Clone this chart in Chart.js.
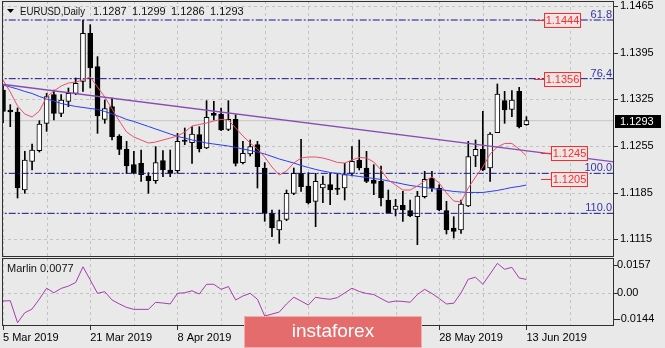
<!DOCTYPE html>
<html>
<head>
<meta charset="utf-8">
<script src="https://cdn.jsdelivr.net/npm/chart.js@4.4.1/dist/chart.umd.min.js"></script>
<style>
  html, body { margin: 0; padding: 0; background: #E9E9E9; }
  #wrap { position: relative; width: 665px; height: 348px; overflow: hidden; background: #E9E9E9; }
  canvas { position: absolute; left: 0; }
  #main { top: 0; }
  #sub { top: 257px; }
</style>
</head>
<body>
<div id="wrap">
  <canvas id="main" width="665" height="258"></canvas>
  <canvas id="sub" width="665" height="91"></canvas>
</div>
<script>
// EURUSD daily, 5 Mar - 13 Jun 2019
const symbolName = 'EURUSD,Daily';
const dateLabels = ['5 Mar 2019', '21 Mar 2019', '8 Apr 2019', '24 Apr 2019', '10 May 2019', '28 May 2019', '13 Jun 2019'];
const dateLabelBars = [0, 12, 24, 36, 48, 60, 72];

const opens = [1.1339,1.1309,1.1306,1.1189,1.1232,1.1248,1.1289,1.1332,1.1304,1.1322,
  1.1334,1.1352,1.1424,1.1374,1.1295,1.1314,1.1270,1.1250,1.1227,1.1229,
  1.1210,1.1203,1.1233,1.1219,1.1218,1.1264,1.1260,1.1272,1.1252,1.1304,
  1.1303,1.1280,1.1295,1.1230,1.1243,1.1257,1.1222,1.1154,1.1129,1.1145,
  1.1184,1.1214,1.1195,1.1172,1.1192,1.1197,1.1192,1.1192,1.1214,1.1234,
  1.1222,1.1204,1.1202,1.1174,1.1160,1.1166,1.1158,1.1149,1.1179,1.1207,
  1.1192,1.1158,1.1132,1.1129,1.1165,1.1240,1.1250,1.1222,1.1275,1.1323,
  1.1310,1.1337,1.1287];
const highs = [1.1345,1.1317,1.1312,1.1247,1.1258,1.1293,1.1334,1.1339,1.1332,1.1342,
  1.1357,1.1444,1.1437,1.1389,1.1324,1.1327,1.1272,1.1262,1.1247,1.1249,
  1.1215,1.1254,1.1248,1.1249,1.1274,1.1282,1.1284,1.1284,1.1323,1.1322,
  1.1312,1.1323,1.1302,1.1262,1.1264,1.1262,1.1230,1.1159,1.1159,1.1189,
  1.1222,1.1265,1.1215,1.1214,1.1210,1.1214,1.1214,1.1229,1.1254,1.1264,
  1.1247,1.1227,1.1225,1.1189,1.1175,1.1187,1.1174,1.1187,1.1217,1.1217,
  1.1197,1.1172,1.1149,1.1174,1.1262,1.1264,1.1307,1.1275,1.1348,1.1337,
  1.1338,1.1343,1.1299];
const lows = [1.1290,1.1284,1.1177,1.1184,1.1219,1.1246,1.1277,1.1294,1.1299,1.1314,
  1.1332,1.1337,1.1342,1.1274,1.1289,1.1264,1.1242,1.1214,1.1213,1.1202,
  1.1184,1.1199,1.1209,1.1209,1.1214,1.1257,1.1229,1.1246,1.1251,1.1294,
  1.1278,1.1278,1.1225,1.1228,1.1240,1.1192,1.1142,1.1119,1.1109,1.1143,
  1.1182,1.1187,1.1168,1.1134,1.1170,1.1167,1.1182,1.1174,1.1210,1.1219,
  1.1200,1.1182,1.1165,1.1155,1.1150,1.1142,1.1149,1.1107,1.1177,1.1187,
  1.1158,1.1123,1.1117,1.1124,1.1164,1.1224,1.1218,1.1202,1.1275,1.1289,
  1.1299,1.1282,1.1286];
const closes = [1.1307,1.1306,1.1192,1.1234,1.1249,1.1288,1.1329,1.1304,1.1324,1.1334,
  1.1349,1.1424,1.1372,1.1300,1.1311,1.1269,1.1250,1.1225,1.1215,1.1212,
  1.1203,1.1230,1.1219,1.1214,1.1262,1.1262,1.1273,1.1251,1.1298,1.1301,
  1.1279,1.1295,1.1229,1.1244,1.1254,1.1224,1.1154,1.1132,1.1143,1.1184,
  1.1214,1.1194,1.1170,1.1202,1.1198,1.1189,1.1190,1.1212,1.1232,1.1222,
  1.1202,1.1199,1.1177,1.1155,1.1165,1.1159,1.1150,1.1180,1.1205,1.1192,
  1.1159,1.1129,1.1127,1.1168,1.1239,1.1250,1.1219,1.1273,1.1333,1.1309,
  1.1324,1.1284,1.1293];

// fast (red) and slow (blue) moving averages
const maFast = [1.1354,1.1336,1.1315,1.1303,1.12985,1.13075,1.13285,1.13375,1.1345,1.13495,
  1.1351,1.1354,1.13585,1.13435,1.13285,1.13105,1.12925,1.1276,1.12685,1.1264,
  1.12595,1.1261,1.1264,1.1267,1.1270,1.1276,1.1285,1.12873,1.12895,1.12925,
  1.12948,1.1294,1.1282,1.1270,1.12595,1.12505,1.12385,1.12235,1.12115,1.12175,
  1.12295,1.1237,1.12385,1.12385,1.1237,1.1234,1.12303,1.12295,1.1234,1.12378,
  1.1237,1.1231,1.1219,1.1204,1.11965,1.1189,1.1189,1.1195,1.12025,1.12085,
  1.11995,1.11845,1.11725,1.1171,1.1192,1.12085,1.12235,1.1243,1.12535,1.12588,
  1.12588,1.12505,1.1240];
const maSlow = [1.13465,1.13435,1.13405,1.13368,1.13338,1.13293,1.13255,1.13225,1.13188,1.13165,
  1.13143,1.13128,1.13113,1.13098,1.13068,1.1303,1.12993,1.12948,1.12918,1.1288,
  1.12843,1.12805,1.12768,1.1273,1.12693,1.1267,1.1264,1.12618,1.12595,1.1258,
  1.12565,1.1255,1.12528,1.12505,1.12483,1.1246,1.1243,1.12393,1.12355,1.12325,
  1.12295,1.12258,1.12228,1.12198,1.12175,1.12153,1.12138,1.12123,1.12108,1.12093,
  1.12078,1.12063,1.12048,1.12025,1.12003,1.1198,1.11958,1.11943,1.11928,1.11913,
  1.11898,1.11883,1.11868,1.1186,1.11853,1.11853,1.11853,1.11868,1.11883,1.11905,
  1.11928,1.11943,1.11965];

// Marlin oscillator
const marlin = [-0.0043,-0.0041,-0.0163,-0.0108,-0.0087,-0.0032,0.0028,0.0003,0.0027,0.0040,
  0.0060,0.0147,0.0074,0.0000,0.0009,-0.0037,-0.0059,-0.0078,-0.0089,-0.0089,
  -0.0089,-0.0050,-0.0054,-0.0059,0.0000,0.0003,0.0014,-0.0004,0.0050,0.0050,
  0.0022,0.0037,-0.0037,-0.0015,0.0000,-0.0033,-0.0126,-0.0115,-0.0104,-0.0059,
  -0.0022,-0.0043,-0.0065,-0.0022,-0.0029,-0.0033,-0.0024,0.0002,0.0028,0.0010,
  -0.0001,-0.0007,-0.0029,-0.0050,-0.0043,-0.0045,-0.0050,-0.0007,0.0022,-0.0001,
  -0.0029,-0.0059,-0.0055,0.0002,0.0078,0.0089,0.0050,0.0107,0.0166,0.0133,
  0.0144,0.0085,0.0077];

// descending trend line (bar index, price)
const trendBars = [-1, 85];
const trendPrices = [1.13488, 1.12298];

// Fibonacci expansion levels
const fibPrices = [1.1444, 1.1356, 1.1214, 1.1154];
const fibTexts = ['61.8', '76.4', '100.0', '110.0'];

// right price labels
const markPrices = [1.1444, 1.1356, 1.1245, 1.1205];
const markBars = [73, 73, 74, 74];

const priceTicks = [1.1115, 1.1185, 1.1255, 1.1325, 1.1395, 1.1465];
const marlinTicks = [-0.0144, 0, 0.0157];
const marlinTickTexts = ['-0.0144', '0.00', '0.0157'];

const FAMILY = '"Liberation Sans", Arial, sans-serif';
const FONT = '11px ' + FAMILY;
const barIdx = opens.map((_, i) => i);
const last = opens.length - 1;
const X_MIN = -0.1376, X_MAX = 84.045;

function gridAndClip(chart, hValues) {
  const { ctx, chartArea: a, scales: { x, y } } = chart;
  ctx.save();
  ctx.beginPath();
  ctx.rect(a.left, a.top, a.right - a.left, a.bottom - a.top);
  ctx.clip();
  ctx.strokeStyle = '#C3C3C3';
  ctx.lineWidth = 1;
  ctx.setLineDash([3, 3]);
  ctx.beginPath();
  for (let k = 0; k <= 84; k += 6) {
    const px = Math.round(x.getPixelForValue(k)) + 0.5;
    ctx.moveTo(px, a.top); ctx.lineTo(px, a.bottom);
  }
  hValues.forEach(v => {
    const py = Math.round(y.getPixelForValue(v)) + 0.5;
    ctx.moveTo(a.left, py); ctx.lineTo(a.right, py);
  });
  ctx.stroke();
  ctx.restore();
}

function frame(chart) {
  const { ctx, chartArea: a } = chart;
  ctx.save();
  ctx.strokeStyle = '#303030';
  ctx.lineWidth = 1;
  ctx.strokeRect(a.left + 0.5, a.top + 0.5, a.right - a.left - 1, a.bottom - a.top - 1);
  ctx.restore();
}

function rightTicks(chart, values) {
  const { ctx, chartArea: a, scales: { y } } = chart;
  ctx.save();
  ctx.strokeStyle = '#303030';
  ctx.beginPath();
  values.forEach(v => {
    const py = Math.round(y.getPixelForValue(v)) + 0.5;
    ctx.moveTo(a.right, py); ctx.lineTo(a.right + 4, py);
  });
  ctx.stroke();
  ctx.restore();
}

const mainDecor = {
  id: 'mainDecor',
  beforeDatasetsDraw(chart) { gridAndClip(chart, priceTicks); },
  afterDatasetsDraw(chart) {
    const { ctx, chartArea: a, scales: { x, y } } = chart;
    frame(chart);
    rightTicks(chart, priceTicks);
    ctx.save();
    ctx.font = FONT;

    // level captions above the dash-dot lines
    ctx.fillStyle = '#3434A6';
    ctx.textAlign = 'right';
    ctx.textBaseline = 'alphabetic';
    fibPrices.forEach((p, k) => {
      ctx.fillText(fibTexts[k], a.right - 2, y.getPixelForValue(p) - 2);
    });

    // boxed price labels
    markPrices.forEach((p, k) => {
      const py = Math.round(y.getPixelForValue(p)) + 0.5;
      const px = Math.round(x.getPixelForValue(markBars[k]));
      ctx.strokeStyle = '#FF2A2A';
      ctx.lineWidth = 1;
      ctx.beginPath();
      ctx.moveTo(px, py); ctx.lineTo(px + 10, py);
      ctx.stroke();
      ctx.fillStyle = '#ECE6E6';
      ctx.fillRect(px + 10.5, py - 7, 36, 14);
      ctx.strokeRect(px + 10.5, py - 7, 36, 14);
      ctx.fillStyle = '#FF2A2A';
      ctx.textAlign = 'center';
      ctx.textBaseline = 'middle';
      ctx.fillText(p.toFixed(4), px + 28.5, py + 0.5);
    });

    // current price box on the axis
    const cy = y.getPixelForValue(closes[last]);
    ctx.fillStyle = '#000';
    ctx.fillRect(a.right + 1, Math.round(cy) - 6, 46, 13);
    ctx.fillStyle = '#FFF';
    ctx.textAlign = 'left';
    ctx.textBaseline = 'middle';
    ctx.fillText(closes[last].toFixed(4), a.right + 6, Math.round(cy) + 0.5);

    // header
    ctx.fillStyle = '#000';
    ctx.beginPath();
    ctx.moveTo(7, 9); ctx.lineTo(14, 9); ctx.lineTo(10.5, 13); ctx.closePath();
    ctx.fill();
    ctx.fillStyle = '#111';
    ctx.fillText(symbolName, 20, 12, 65);
    [opens[last], highs[last], lows[last], closes[last]].forEach((v, k) => {
      ctx.fillText(v.toFixed(4), 93 + 39 * k, 12);
    });
    ctx.restore();
  }
};

const flatLine = (p, color, dash, order, width) => ({
  type: 'line',
  data: [{ x: -1, y: p }, { x: 85, y: p }],
  borderColor: color, borderWidth: width || 1, borderDash: dash || [],
  pointRadius: 0, order
});

new Chart(document.getElementById('main'), {
  type: 'bar',
  data: {
    datasets: [
      flatLine(closes[last], '#C6C6C6', [], 30),
      {
        type: 'bar', data: barIdx.map(i => ({ x: i, y: [lows[i], highs[i]] })),
        backgroundColor: '#000', barThickness: 1, grouped: false, order: 20
      },
      {
        type: 'bar', data: barIdx.map(i => ({ x: i, y: [opens[i], closes[i]] })),
        backgroundColor: barIdx.map(i => closes[i] >= opens[i] ? '#FFFFFF' : '#000000'),
        borderColor: '#000', borderWidth: 1, borderSkipped: false,
        barThickness: 5, minBarLength: 1, grouped: false, order: 19
      },
      ...fibPrices.map(p => flatLine(p, '#14148C', [7, 2, 2, 2], 6)),
      {
        type: 'line', data: barIdx.map(i => ({ x: i, y: maSlow[i] })),
        borderColor: '#2A3CF2', borderWidth: 1, pointRadius: 0, tension: 0, order: 5
      },
      {
        type: 'line', data: barIdx.map(i => ({ x: i, y: maFast[i] })),
        borderColor: '#E8506A', borderWidth: 1, pointRadius: 0, tension: 0, order: 4
      },
      {
        type: 'line', data: trendBars.map((b, k) => ({ x: b, y: trendPrices[k] })),
        borderColor: '#8A4AB4', borderWidth: 1.4, pointRadius: 0, order: 3
      }
    ]
  },
  options: {
    responsive: false, animation: false, events: [],
    layout: { padding: { left: 2, top: 1, right: 0, bottom: 1 } },
    plugins: { legend: { display: false }, tooltip: { enabled: false } },
    scales: {
      x: { type: 'linear', min: X_MIN, max: X_MAX, bounds: 'data', offset: false, display: false },
      y: {
        type: 'linear', position: 'right', min: 1.10885, max: 1.14725, bounds: 'data',
        afterBuildTicks: s => { s.ticks = priceTicks.map(v => ({ value: v })); },
        afterFit: s => { s.width = 51; s.paddingTop = 0; s.paddingBottom = 0; },
        grid: { display: false, drawTicks: false }, border: { display: false },
        ticks: {
          autoSkip: false, padding: 6, color: '#000',
          font: { family: FAMILY, size: 11 }, callback: v => v.toFixed(4)
        }
      }
    }
  },
  plugins: [mainDecor]
});

const subDecor = {
  id: 'subDecor',
  beforeDatasetsDraw(chart) { gridAndClip(chart, [0]); },
  afterDatasetsDraw(chart) {
    const { ctx, chartArea: a, scales: { x } } = chart;
    frame(chart);
    rightTicks(chart, marlinTicks);
    ctx.save();
    ctx.strokeStyle = '#303030';
    ctx.beginPath();
    dateLabelBars.forEach(b => {
      const px = Math.round(x.getPixelForValue(b)) + 0.5;
      ctx.moveTo(px, a.bottom); ctx.lineTo(px, a.bottom + 4);
    });
    ctx.stroke();
    ctx.font = FONT;
    ctx.fillStyle = '#111';
    ctx.textAlign = 'left';
    ctx.textBaseline = 'middle';
    ctx.fillText('Marlin ' + marlin[last].toFixed(4), 7, 12);

    // brand plate
    ctx.fillStyle = '#E46C6C';
    ctx.fillRect(244, 59, 178, 32);
    ctx.strokeStyle = '#F2AEAE';
    ctx.strokeRect(244.5, 59.5, 177, 31);
    ctx.fillStyle = '#FFFFFF';
    ctx.font = '19px ' + FAMILY;
    ctx.textAlign = 'center';
    ctx.fillText('instaforex', 333, 75);
    ctx.restore();
  }
};

new Chart(document.getElementById('sub'), {
  type: 'line',
  data: {
    datasets: [{
      data: barIdx.map(i => ({ x: i, y: marlin[i] })),
      borderColor: '#A83AAE', borderWidth: 1, pointRadius: 0, tension: 0
    }]
  },
  options: {
    responsive: false, animation: false, events: [],
    layout: { padding: { left: 2, top: 1, right: 0, bottom: 0 } },
    plugins: { legend: { display: false }, tooltip: { enabled: false } },
    scales: {
      x: {
        type: 'linear', min: X_MIN, max: X_MAX, bounds: 'data', offset: false,
        afterBuildTicks: s => { s.ticks = dateLabelBars.map(v => ({ value: v })); },
        afterFit: s => { s.height = 22; s.paddingLeft = 0; s.paddingRight = 0; },
        grid: { display: false, drawTicks: false }, border: { display: false },
        ticks: {
          align: 'start', autoSkip: false, maxRotation: 0, minRotation: 0, padding: 5,
          color: '#000', font: { family: FAMILY, size: 11 },
          callback: v => { const k = dateLabelBars.indexOf(v); return k >= 0 ? dateLabels[k] : ''; }
        }
      },
      y: {
        type: 'linear', position: 'right', min: -0.01813, max: 0.01957, bounds: 'data',
        afterBuildTicks: s => { s.ticks = marlinTicks.map(v => ({ value: v })); },
        afterFit: s => { s.width = 51; s.paddingTop = 0; s.paddingBottom = 0; },
        grid: { display: false, drawTicks: false }, border: { display: false },
        ticks: {
          autoSkip: false, padding: 3, color: '#000', font: { family: FAMILY, size: 11 },
          callback: v => { const k = marlinTicks.indexOf(v); return k >= 0 ? marlinTickTexts[k] : ''; }
        }
      }
    }
  },
  plugins: [subDecor]
});
</script>
</body>
</html>
